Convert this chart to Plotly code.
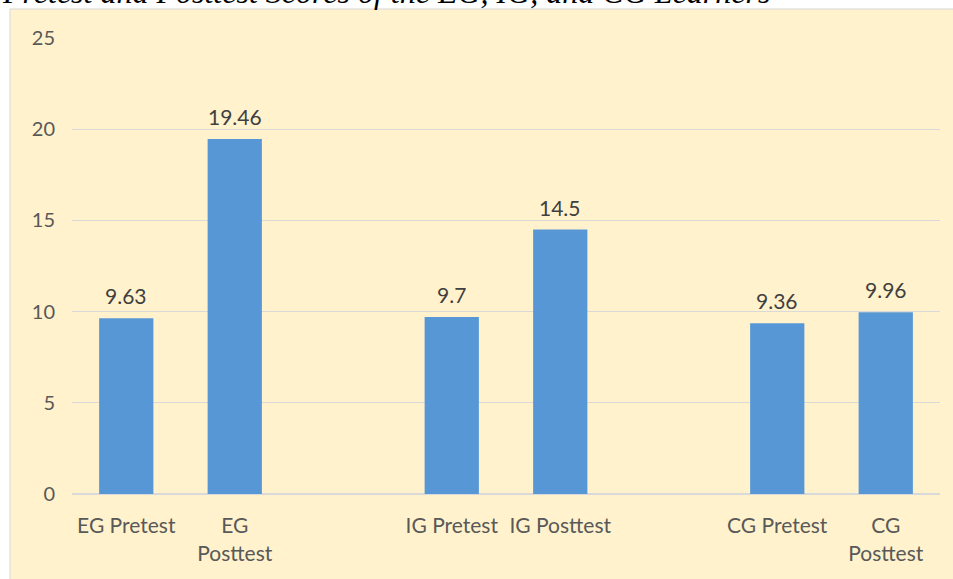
import plotly.graph_objects as go

categories = ["EG Pretest", "EG<br>Posttest", " ", "IG Pretest", "IG Posttest", "  ", "CG Pretest", "CG<br>Posttest"]
scores = [9.63, 19.46, None, 9.7, 14.5, None, 9.36, 9.96]
score_labels = ["9.63", "19.46", "", "9.7", "14.5", "", "9.36", "9.96"]
y_ticks = [0, 5, 10, 15, 20, 25]
title_text = "Pretest and Posttest Scores of the EG, IG, and CG Learners"

fig = go.Figure()
fig.add_trace(go.Bar(
    x=categories, y=scores,
    marker=dict(color="#5797D6", line=dict(width=0)),
    width=0.5,
    hoverinfo="skip",
))

for c, v, t in zip(categories, scores, score_labels):
    if v is None:
        continue
    fig.add_annotation(x=c, y=v, text=t, showarrow=False, yanchor="bottom", yshift=8,
                       font=dict(family="Lato, Open Sans, sans-serif", size=21, color="#404040"))

# title (partly cut off at the top edge, as in the reference)
fig.add_annotation(x=-0.083, y=1.101, xref="paper", yref="paper", xanchor="left", yanchor="middle",
                   text=title_text, showarrow=False,
                   font=dict(family="Liberation Serif, serif", size=32, color="black", style="italic"))

# chart area background box
fig.add_shape(type="rect", xref="paper", yref="paper",
              x0=-0.0714, x1=1.02, y0=-0.2, y1=1.0636,
              fillcolor="#FFF2CC", line=dict(color="#D6D6D6", width=1), layer="below")

fig.update_layout(
    width=953, height=579,
    margin=dict(l=72, r=13, t=38, b=85, autoexpand=False),
    paper_bgcolor="white", plot_bgcolor="rgba(0,0,0,0)",
    showlegend=False,
    xaxis=dict(categoryorder="array", categoryarray=categories, showgrid=False, automargin=False,
               showline=False, zeroline=False, ticks="outside", ticklen=13,
               tickcolor="rgba(0,0,0,0)",
               tickfont=dict(family="Lato, Open Sans, sans-serif", size=21, color="#595959")),
    yaxis=dict(range=[0, 25], tickvals=y_ticks, showgrid=True, gridcolor="#D9D9D9", gridwidth=1,
               automargin=False,
               zeroline=True, zerolinecolor="#D9D9D9", zerolinewidth=2,
               ticks="outside", ticklen=12, tickcolor="rgba(0,0,0,0)",
               tickfont=dict(family="Lato, Open Sans, sans-serif", size=20, color="#595959")),
)

fig.write_html("out.html", config={"displayModeBar": False},
               post_script="document.body.style.margin='0';")
